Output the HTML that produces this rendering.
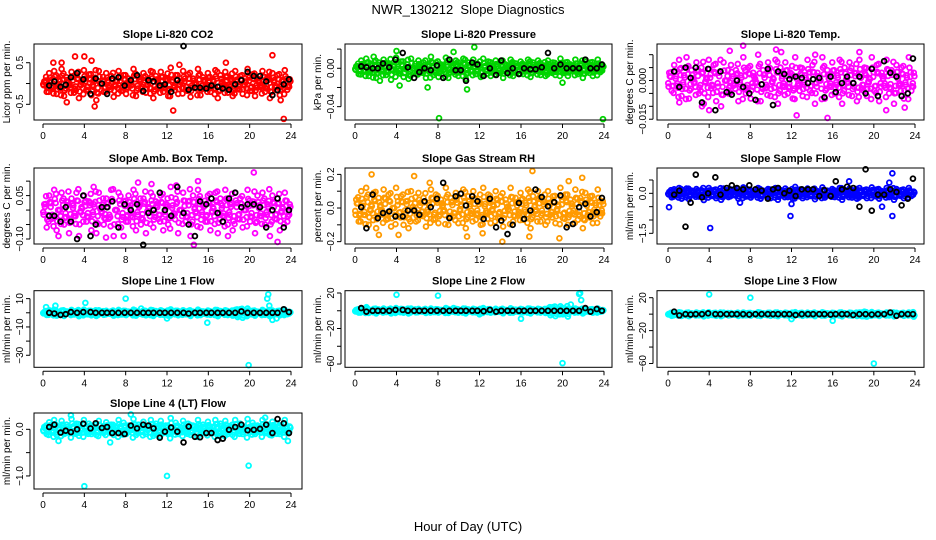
<!DOCTYPE html>
<html><head><meta charset="utf-8"><style>
body{margin:0;background:#fff;width:936px;height:540px;overflow:hidden}
svg{display:block;font-family:"Liberation Sans",sans-serif}
</style></head><body>
<svg id="chart" width="936" height="540" viewBox="0 0 936 540" xmlns="http://www.w3.org/2000/svg">
<rect width="936" height="540" fill="#fff"/>
<text x="468" y="14" text-anchor="middle" font-size="13" style="white-space:pre">NWR_130212  Slope Diagnostics</text>
<text x="468" y="531" text-anchor="middle" font-size="13">Hour of Day (UTC)</text>
</svg>
<script>
const xTicks=[0,4,8,12,16,20,24];
const blackHours=[0.6,1.1,1.7,2.2,2.7,3.3,3.9,4.6,5.1,5.7,6.2,6.7,7.3,7.9,8.5,9.1,9.7,10.2,10.7,11.3,11.8,12.4,13.0,13.6,14.1,14.7,15.2,15.8,16.3,16.9,17.4,18.0,18.6,19.2,19.8,20.4,21.0,21.6,22.2,22.7,23.3,23.8];

const co2Band=[0.05,-0.2,0.25,-0.1,0.3,-0.25,0.1,0.35,-0.3,0.15,-0.05,0.28,-0.22,0.2,-0.35,0.05,0.32,-0.15,0.22,-0.28,0.1,-0.4,0.3,0,-0.2,0.25,-0.1,0.18,-0.32,0.08,0.3,-0.18,0.2,-0.25,0.12,-0.05,0.35,-0.3,0.15,-0.12,0.25,-0.22,0.05,0.3,-0.35,0.18,-0.08,0.28,-0.2,0.1,-0.3,0.38,-0.1,0.2,-0.25,0.05,0.3,-0.15,0.22,-0.32,0.12,-0.02,0.35,-0.28,0.15,-0.1,0.25,-0.2,0.08,0.32,-0.35,0.2,-0.05,0.28,-0.22,0.1,-0.3,0.3,-0.12,0.18,-0.25,0.05,0.35,-0.18,0.22,-0.3,0.12,-0.08,0.3,-0.2,0.15,-0.35,0.25,-0.1,0.2,-0.28,0.08,0.32,-0.15,0.1];
const co2OutH=[1.0,1.8,3.1,4.0,4.7,2.3,5.0,12.6,23.3,22.2,17.7,13.2,23.0];
const co2OutV=[0.5,0.5,0.65,0.65,0.55,-0.45,-0.55,-0.65,-0.85,0.68,0.5,0.45,-0.4];
const co2Black=[-0.05,0.05,-0.08,-0.03,0.15,0.25,0.1,-0.25,0.12,0.0,-0.25,0.12,0.15,-0.05,0.08,0.2,-0.18,0.08,0.05,-0.05,-0.02,-0.2,0.08,0.9,-0.15,-0.1,-0.1,-0.12,-0.05,-0.08,-0.12,-0.15,-0.02,0.08,0.28,0.18,0.18,0.05,-0.28,-0.16,-0.02,0.1];

const presBand=[0.002,-0.006,0.008,-0.003,0.01,-0.008,0.004,0.012,-0.01,0.006,-0.002,0.009,-0.007,0.005,-0.012,0.003,0.011,-0.005,0.007,-0.009,0.001,-0.011,0.01,0.0,-0.006,0.008,-0.004,0.006,-0.01,0.003,0.012,-0.007,0.006,-0.009,0.004,-0.002,0.011,-0.01,0.005,-0.004,0.008,-0.008,0.002,0.01,-0.011,0.006,-0.003,0.009,-0.006,0.004,-0.009,0.01,-0.003,0.007,-0.008,0.002,0.008,-0.005,0.006,-0.01,0.004,-0.001,0.009,-0.008,0.005,-0.003,0.007,-0.006,0.003,0.009,-0.009,0.006,-0.002,0.008,-0.007,0.003,-0.008,0.008,-0.004,0.006,-0.007,0.002,0.01,-0.005,0.006,-0.008,0.004,-0.002,0.009,-0.006,0.005,-0.01,0.007,-0.003,0.006,-0.008,0.002,0.009,-0.004,0.003];
const presOutH=[8.1,23.9,11.5,4.0,7.0,20.0,10.8,9.5,4.3,2.4];
const presOutV=[-0.052,-0.053,0.022,0.018,-0.02,-0.015,-0.022,0.017,-0.018,-0.013];
const presBlack=[0.002,0.001,0.0,0.0,0.005,0.001,0.009,0.016,0.001,-0.01,-0.004,0.0,-0.002,0.003,-0.01,0.009,-0.002,-0.002,-0.013,0.006,0.004,-0.008,0.0,-0.007,0.008,-0.005,0.0,-0.006,0.0,-0.001,-0.001,0.001,0.016,0.0,0.004,0.0,0.0,0.0,0.009,0.0,0.0,0.004];

const tempBand=[0.003,-0.004,0.006,-0.002,0.008,-0.006,0.002,0.009,-0.007,0.004,-0.001,0.007,-0.005,0.005,-0.009,0.001,0.008,-0.003,0.006,-0.008,0.003,-0.01,0.007,0.0,-0.005,0.006,-0.002,0.004,-0.008,0.002,0.009,-0.005,0.005,-0.007,0.003,-0.001,0.01,-0.008,0.004,-0.003,0.007,-0.006,0.001,0.008,-0.009,0.005,-0.002,0.007,-0.005,0.003,-0.007,0.009,-0.002,0.005,-0.006,0.002,0.008,-0.004,0.006,-0.009,0.003,0.0,0.009,-0.007,0.004,-0.002,0.007,-0.005,0.002,0.008,-0.009,0.005,-0.001,0.007,-0.006,0.003,-0.008,0.008,-0.003,0.005,-0.006,0.001,0.009,-0.004,0.006,-0.008,0.003,-0.002,0.008,-0.005,0.004,-0.009,0.006,-0.002,0.005,-0.007,0.002,0.009,-0.004,0.003];
const tempOutH=[7.3,15.5,12.5,21.2,4.0,1.1,6.0,10.5,14.3,18.6,3.3,23.0,11.0];
const tempOutV=[0.0135,-0.0145,-0.0135,-0.0115,-0.0115,-0.0085,0.0115,0.012,0.01,0.011,-0.01,-0.0105,0.011];
const tempBlack=[0.0035,-0.0025,0.005,0.001,0.005,-0.0085,0.0045,-0.0115,0.0035,-0.0045,-0.0055,0.0,-0.0025,-0.005,-0.0075,-0.0015,0.0045,-0.0095,0.0035,0.0025,0.0005,0.0015,0.001,-0.001,0.0005,0.001,-0.0065,0.0015,-0.0045,-0.001,0.0015,-0.001,0.0015,-0.005,0.0045,-0.006,0.0075,0.003,0.0015,-0.006,-0.005,0.0085];

const ambBand=[0.02,-0.06,0.05,-0.03,0.07,-0.07,0.0,0.06,-0.05,0.03,-0.08,0.04,-0.02,0.06,-0.09,0.01,0.05,-0.04,0.03,-0.07,0.02,-0.08,0.06,-0.01,-0.05,0.04,-0.03,0.07,-0.09,0.0,0.06,-0.06,0.03,-0.04,0.05,-0.02,0.07,-0.07,0.02,-0.05,0.04,-0.08,0.01,0.06,-0.06,0.03,-0.03,0.05,-0.07,0.02,-0.05,0.08,-0.02,0.04,-0.08,0.0,0.06,-0.04,0.03,-0.09,0.05,-0.01,0.07,-0.06,0.02,-0.04,0.05,-0.07,0.01,0.06,-0.08,0.04,-0.02,0.07,-0.05,0.02,-0.07,0.06,-0.03,0.04,-0.06,0.0,0.07,-0.04,0.03,-0.08,0.05,-0.02,0.06,-0.05,0.02,-0.09,0.05,-0.03,0.04,-0.07,0.01,0.06,-0.04,0.02];
const ambOutH=[20.4,14.6,22.7,15.0,9.2,10.5,4.9,7.8,1.5,17.9,12.9,6.1];
const ambOutV=[0.13,-0.12,-0.11,0.1,0.095,0.09,0.08,-0.09,-0.09,-0.09,0.085,-0.095];
const ambBlack=[-0.02,-0.02,-0.04,0.01,-0.04,-0.1,0.05,-0.09,-0.05,0.01,0.01,0.03,-0.06,0.02,0.0,0.02,-0.12,-0.01,0.0,0.06,0.0,-0.02,0.08,-0.01,-0.05,-0.09,0.03,0.02,0.04,-0.01,-0.04,0.04,0.06,0.01,0.02,0.02,0.01,-0.06,0.0,0.04,-0.06,0.0];

const rhBand=[0.05,-0.08,0.1,-0.04,0.12,-0.1,0.02,0.09,-0.12,0.06,-0.02,0.11,-0.07,0.08,-0.11,0.0,0.12,-0.05,0.07,-0.1,0.04,-0.12,0.1,-0.01,-0.08,0.09,-0.04,0.06,-0.11,0.03,0.11,-0.07,0.08,-0.09,0.05,-0.02,0.12,-0.1,0.06,-0.05,0.09,-0.09,0.02,0.11,-0.12,0.07,-0.03,0.1,-0.07,0.04,-0.1,0.12,-0.03,0.08,-0.09,0.02,0.1,-0.06,0.07,-0.11,0.05,-0.01,0.12,-0.08,0.06,-0.04,0.09,-0.07,0.03,0.11,-0.12,0.07,-0.02,0.1,-0.08,0.04,-0.1,0.1,-0.04,0.07,-0.09,0.02,0.12,-0.06,0.08,-0.1,0.05,-0.03,0.11,-0.07,0.06,-0.12,0.09,-0.04,0.07,-0.09,0.03,0.11,-0.05,0.04];
const rhOutH=[17.1,1.6,14.2,19.7,2.3,4.2,10.8,16.8,5.7,20.6,21.9,12.3,7.2];
const rhOutV=[0.22,0.2,-0.2,-0.18,-0.16,-0.16,-0.17,-0.17,0.19,0.16,0.18,-0.15,0.15];
const rhBlack=[0.005,-0.12,0.08,-0.06,-0.03,-0.02,-0.05,-0.05,-0.015,-0.015,-0.04,0.04,0.005,0.055,0.15,-0.06,0.07,0.085,0.015,0.07,0.04,-0.065,0.055,-0.115,-0.075,-0.155,-0.1,0.03,-0.065,-0.015,0.11,0.065,0.01,0.035,0.075,-0.115,-0.095,0.005,0.025,-0.05,-0.025,0.06];

const sampBand=[0.05,-0.15,0.15,-0.08,0.2,-0.2,0.0,0.18,-0.22,0.1,-0.05,0.16,-0.12,0.12,-0.25,0.02,0.2,-0.1,0.12,-0.18,0.06,-0.24,0.18,-0.02,-0.14,0.14,-0.06,0.1,-0.2,0.04,0.22,-0.12,0.14,-0.16,0.08,-0.04,0.2,-0.2,0.1,-0.08,0.16,-0.18,0.02,0.2,-0.24,0.12,-0.06,0.18,-0.14,0.08,-0.2,0.24,-0.06,0.14,-0.18,0.04,0.18,-0.1,0.12,-0.22,0.08,-0.02,0.22,-0.16,0.1,-0.08,0.16,-0.14,0.05,0.2,-0.24,0.12,-0.04,0.18,-0.16,0.06,-0.2,0.2,-0.08,0.12,-0.18,0.02,0.22,-0.1,0.14,-0.2,0.08,-0.04,0.2,-0.14,0.1,-0.24,0.16,-0.06,0.12,-0.18,0.04,0.2,-0.1,0.06];
const sampOutH=[21.8,11.9,4.1,21.8,0.1,17.6,21.5,20.8,7.0,12.0];
const sampOutV=[0.75,-0.85,-1.3,-0.85,-0.52,0.45,0.4,-0.5,-0.35,-0.4];
const sampBlack=[-0.05,0.1,-1.25,-0.35,0.7,-0.15,0.0,0.6,-0.05,0.2,0.3,0.2,0.15,0.3,0.15,0.1,-0.2,0.15,0.2,0.0,0.1,-0.1,0.15,0.15,0.15,-0.1,0.12,-0.1,0.45,0.15,0.25,0.2,-0.5,0.9,-0.65,-0.05,-0.05,0.15,0.05,-0.45,-0.2,0.55];

const l1Band=[0.5,-1.5,1.8,-0.8,2.2,-2.0,0.2,1.6,-2.2,1.0,-0.4,2.0,-1.2,1.2,-2.4,0.0,2.2,-1.0,1.4,-1.8,0.6,-2.2,1.8,-0.2,-1.4,1.4,-0.6,1.0,-2.0,0.4,2.0,-1.2,1.4,-1.6,0.8,-0.4,2.2,-2.0,1.0,-0.8,1.6,-1.8,0.2,2.0,-2.2,1.2,-0.6,1.8,-1.4,0.8,-2.0,2.4,-0.6,1.4,-1.8,0.4,1.8,-1.0,1.2,-2.2,0.8,-0.2,2.2,-1.6,1.0,-0.8,1.6,-1.4,0.5,2.0,-2.4,1.2,-0.4,1.8,-1.6,0.6,-2.0,2.0,-3.0,2.5,-3.5,0.2,3.0,-1.0,1.4,-2.0,0.8,-0.4,2.0,-1.4,1.0,-2.4,1.6,-0.6,1.2,-1.8,0.4,2.0,-1.0,0.6];
const l1OutH=[19.9,21.8,21.7,4.1,8.0,15.9,12.0,1.2,0.3,21.9,22.2,22.6,9.5];
const l1OutV=[-37,13,10,7,10,-7,-4,5,4,5,-5,-4,3];
const l1Black=[0,-0.5,-1.5,-1.0,0.5,0.0,0.5,0.5,0.0,0.0,0.0,0.0,0.0,0.0,0.0,0.0,0.0,0.0,0.0,0.0,0.0,0.0,0.0,0.0,-0.5,0.0,0.0,0.0,0.0,0.0,0.0,0.0,0.0,1.0,0.0,0.0,0.0,0.0,0.0,0.0,2.5,0.5];

const l2Band=[1.0,-2.0,2.5,-1.0,3.0,-2.5,0.5,2.0,-3.0,1.5,-0.5,2.5,-1.5,1.5,-3.0,0.0,3.0,-1.2,2.0,-2.2,0.8,-3.0,2.5,-0.3,-1.8,2.0,-0.8,1.2,-2.5,0.5,2.5,-1.5,1.8,-2.0,1.0,-0.5,3.0,-2.5,1.2,-1.0,2.0,-2.2,0.3,2.5,-3.0,1.5,-0.8,2.2,-1.8,1.0,-2.5,3.0,-0.8,1.8,-2.2,0.5,2.2,-1.2,1.5,-2.8,1.0,-0.3,2.8,-2.0,1.2,-1.0,2.0,-1.8,0.6,2.5,-3.0,1.5,-0.5,2.2,-2.0,0.8,-2.5,2.5,-5.0,4.0,-6.0,0.3,5.0,-4.0,2.0,-6.5,1.0,-0.5,2.5,-1.8,1.2,-3.0,2.0,-0.8,1.5,-2.2,0.5,2.5,-1.2,0.8];
const l2OutH=[20.0,21.7,4.0,8.0,16.0,12.0,21.8,20.8,21.6,1.1,9.5];
const l2OutV=[-59,20,18,17,-9,-4,12,7,19,4,3];
const l2Black=[3,-1,0,0,0,0,1,1,0,0,0,0,0,0,0,0,0,0,0,0,0,-0.5,1,-1,0,0,0,0,0,0,0,0,0,0,0,0,0,0,3,-1,2,0];

const l3Band=[0.5,-2.0,1.8,-1.0,2.2,-2.2,0.2,1.6,-2.4,1.0,-0.4,2.0,-1.4,1.2,-2.6,0.0,2.2,-1.0,1.4,-2.0,0.6,-2.4,1.8,-0.2,-1.6,1.4,-0.6,1.0,-2.2,0.4,2.0,-1.4,1.4,-1.8,0.8,-0.4,2.2,-2.2,1.0,-0.8,1.6,-2.0,0.2,2.0,-2.4,1.2,-0.6,1.8,-1.6,0.8,-2.2,2.4,-0.6,1.4,-2.0,0.4,1.8,-1.2,1.2,-2.4,0.8,-0.2,2.2,-1.8,1.0,-0.8,1.6,-1.6,0.5,2.0,-2.6,1.2,-0.4,1.8,-1.8,0.6,-2.2,2.0,-2.5,3.0,-3.0,0.2,2.5,-1.2,1.4,-2.2,0.8,-0.4,2.0,-1.6,1.0,-2.6,1.6,-0.6,1.2,-2.0,0.4,2.0,-1.2,-3.0];
const l3OutH=[4.0,8.0,20.0,12.0,16.0,8.8,0.6];
const l3OutV=[24,20,-60,-6,-8,2,2];
const l3Black=[3,-1.5,0,-0.5,0,0,1,0,0,0,0,0,0,-0.5,0,0,0,0,0,0,0,-1,0,0,0,0,0,-0.5,0,0,0,-1,0,0,-0.5,0,0,2,-2,0,0,0];

const l4Band=[0.05,-0.1,0.15,-0.05,0.2,-0.12,0.0,0.18,-0.1,0.1,-0.02,0.22,-0.08,0.12,-0.14,0.02,0.2,-0.06,0.12,-0.1,0.05,-0.12,0.18,0.0,-0.08,0.15,-0.04,0.1,-0.12,0.04,0.2,-0.08,0.14,-0.1,0.08,-0.02,0.22,-0.12,0.1,-0.05,0.16,-0.1,0.02,0.2,-0.14,0.12,-0.04,0.18,-0.08,0.08,-0.1,0.24,-0.04,0.14,-0.1,0.04,0.18,-0.06,0.12,-0.12,0.08,0.0,0.2,-0.1,0.1,-0.05,0.16,-0.08,0.05,0.2,-0.14,0.12,-0.02,0.18,-0.1,0.06,-0.12,0.2,-0.05,0.12,-0.1,0.02,0.22,-0.06,0.14,-0.1,0.08,-0.02,0.2,-0.08,0.1,-0.12,0.16,-0.04,0.12,-0.1,0.04,0.2,-0.06,0.06];
const l4OutH=[4.0,12.0,19.9,6.5,2.7,8.5,21.5,23.7,1.5];
const l4OutV=[-1.22,-1.0,-0.78,-0.28,0.3,0.32,0.25,-0.25,-0.25];
const l4Black=[0.05,0.1,-0.07,-0.03,-0.06,0.0,0.12,0.02,0.13,0.03,0.05,-0.08,-0.08,-0.1,0.08,0.02,0.1,0.08,0.02,-0.18,-0.05,0.04,-0.05,-0.28,0.06,-0.16,-0.17,-0.08,-0.08,-0.23,-0.2,-0.01,0.05,0.1,-0.02,-0.01,0.01,0.1,-0.08,0.22,0.13,-0.08];

const panels=[
 {name:'co2',title:'Slope Li-820 CO2',ylab:'Licor ppm per min.',col:0,row:0,top:0.95,bot:-0.877,ticks:[-0.5,0,0.5],labels:['\u22120.5','','0.5'],color:'#ff0000',band:co2Band,outH:co2OutH,outV:co2OutV,black:co2Black},
 {name:'pressure',title:'Slope Li-820 Pressure',ylab:'kPa per min.',col:1,row:0,top:0.0253,bot:-0.0539,ticks:[-0.04,-0.02,0,0.02],labels:['\u22120.04','','0.00',''],color:'#00d400',band:presBand,outH:presOutH,outV:presOutV,black:presBlack},
 {name:'temp',title:'Slope Li-820 Temp.',ylab:'degrees C per min.',col:2,row:0,top:0.01414,bot:-0.0153,ticks:[-0.015,-0.01,-0.005,0,0.005,0.01],labels:['\u22120.015','','','0.000','',''],color:'#ff00ff',band:tempBand,outH:tempOutH,outV:tempOutV,black:tempBlack},
 {name:'amb-box-temp',title:'Slope Amb. Box Temp.',ylab:'degrees C per min.',col:0,row:1,top:0.1454,bot:-0.1173,ticks:[-0.1,-0.05,0,0.05,0.1],labels:['\u22120.10','','','0.05',''],color:'#ff00ff',band:ambBand,outH:ambOutH,outV:ambOutV,black:ambBlack},
 {name:'gas-rh',title:'Slope Gas Stream RH',ylab:'percent per min.',col:1,row:1,top:0.238,bot:-0.214,ticks:[-0.2,-0.1,0,0.1,0.2],labels:['\u22120.2','','0.0','','0.2'],color:'#ff9a00',band:rhBand,outH:rhOutH,outV:rhOutV,black:rhBlack},
 {name:'sample-flow',title:'Slope Sample Flow',ylab:'ml/min per min.',col:2,row:1,top:0.95,bot:-1.9,ticks:[-1.5,-1,-0.5,0,0.5],labels:['\u22121.5','','','0.0',''],color:'#0000ff',band:sampBand,outH:sampOutH,outV:sampOutV,black:sampBlack},
 {name:'line1-flow',title:'Slope Line 1 Flow',ylab:'ml/min per min.',col:0,row:2,top:15.6,bot:-38.5,ticks:[-30,-20,-10,0,10],labels:['\u221230','','\u221210','','10'],color:'#00ffff',band:l1Band,outH:l1OutH,outV:l1OutV,black:l1Black},
 {name:'line2-flow',title:'Slope Line 2 Flow',ylab:'ml/min per min.',col:1,row:2,top:22.6,bot:-63.7,ticks:[-60,-40,-20,0,20],labels:['\u221260','','\u221220','','20'],color:'#00ffff',band:l2Band,outH:l2OutH,outV:l2OutV,black:l2Black},
 {name:'line3-flow',title:'Slope Line 3 Flow',ylab:'ml/min per min.',col:2,row:2,top:28.5,bot:-64.6,ticks:[-60,-40,-20,0,20],labels:['\u221260','','\u221220','','20'],color:'#00ffff',band:l3Band,outH:l3OutH,outV:l3OutV,black:l3Black},
 {name:'line4-flow',title:'Slope Line 4 (LT) Flow',ylab:'ml/min per min.',col:0,row:3,top:0.35,bot:-1.28,ticks:[-1,-0.5,0],labels:['\u22121.0','','0.0'],color:'#00ffff',band:l4Band,outH:l4OutH,outV:l4OutV,black:l4Black}
];
const colBox=[{l:34,r:302,x0:43,x24:291},{l:345,r:612,x0:355,x24:604},{l:657,r:924,x0:668,x24:915}];
const rowBox=[{t:44,b:120},{t:168,b:244},{t:290.7,b:367.3},{t:413,b:489}];
const passShift=[0.5,0.25,0.75,0.1];
const passGain=[1,-0.8,0.55,-0.35];
const NS='http://www.w3.org/2000/svg';
const svg=document.getElementById('chart');
function mk(tag,attrs,parent){const e=document.createElementNS(NS,tag);for(const k in attrs)e.setAttribute(k,attrs[k]);parent.appendChild(e);return e;}

panels.forEach(p=>{
 const c=colBox[p.col],r=rowBox[p.row];
 const xs=h=>c.x0+(c.x24-c.x0)*h/24;
 const ys=v=>r.t+(p.top-v)/(p.top-p.bot)*(r.b-r.t);
 const g=mk('g',{},svg);
 
 
 const t=mk('text',{x:(c.l+c.r)/2,y:r.t-6,'text-anchor':'middle','font-size':11,'font-weight':'bold'},g);
 
 
 t.textContent=p.title;
 const pts=mk('g',{fill:'none','stroke-width':1.8},g);
 
 
 const dot=(h,v,col,nm)=>{const e=mk('circle',{cx:xs(h),cy:ys(v),r:2.4,stroke:col},pts);
  
  };
 const n=p.band.length;
 passShift.forEach((s,k)=>{p.band.forEach((v,i)=>dot((i+s)*24/n,v*passGain[k],p.color,'point'));});
 p.outH.forEach((h,i)=>dot(h,p.outV[i],p.color,'outlier-point'));
 p.black.forEach((v,i)=>dot(blackHours[i],v,'#000','black-point'));
 const box=mk('rect',{x:c.l,y:r.t,width:c.r-c.l,height:r.b-r.t,fill:'none',stroke:'#000','stroke-width':1},g);
 
 
 const ax=mk('g',{stroke:'#000','stroke-width':1,'font-size':10},g);
 
 
 mk('line',{x1:xs(0),x2:xs(24),y1:r.b+4,y2:r.b+4},ax);
 xTicks.forEach(h=>{mk('line',{x1:xs(h),x2:xs(h),y1:r.b+4,y2:r.b+8},ax);
  const tl=mk('text',{x:xs(h),y:r.b+19,'text-anchor':'middle',stroke:'none',fill:'#000'},ax);
  
  
  tl.textContent=h;});
 const yl=c.l-4;
 mk('line',{x1:yl,x2:yl,y1:ys(p.ticks[0]),y2:ys(p.ticks[p.ticks.length-1])},ax);
 p.ticks.forEach((v,i)=>{mk('line',{x1:yl,x2:yl-4,y1:ys(v),y2:ys(v)},ax);
  if(p.labels[i]){const tl=mk('text',{x:0,y:0,'text-anchor':'middle',stroke:'none',fill:'#000',transform:`translate(${c.l-11},${ys(v)}) rotate(-90)`},ax);
   
   
   tl.textContent=p.labels[i];}});
 const yt=mk('text',{x:0,y:0,'text-anchor':'middle','font-size':10,transform:`translate(${c.l-24},${(r.t+r.b)/2}) rotate(-90)`},g);
 
 
 yt.textContent=p.ylab;
});
</script>
</body></html>
